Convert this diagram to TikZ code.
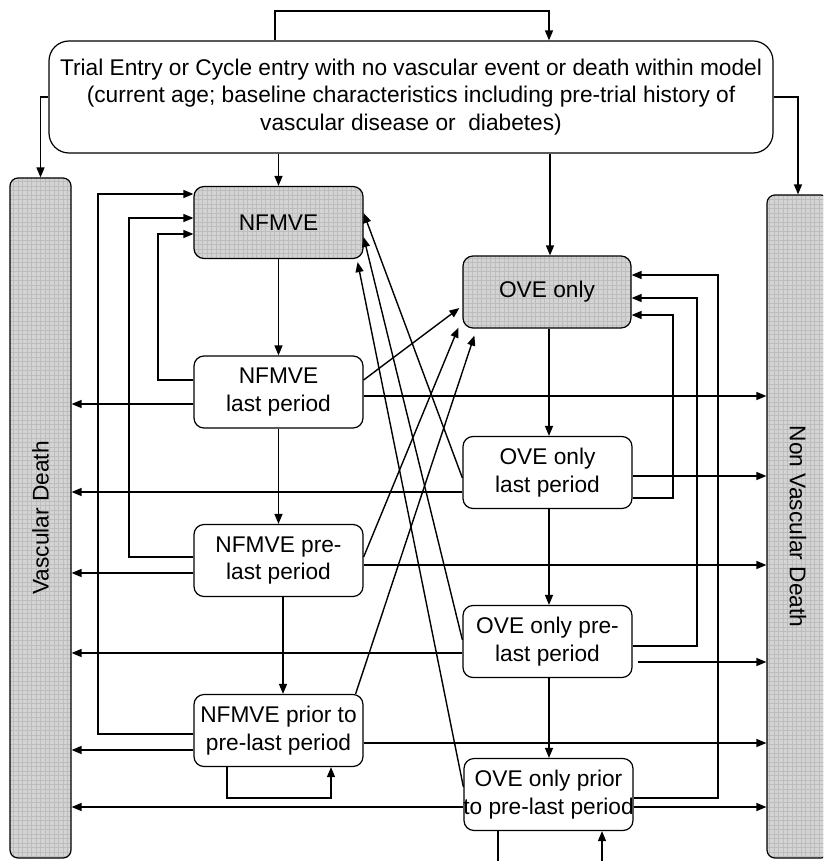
\documentclass[tikz,border=0pt]{standalone}
\usepackage{fontspec}
\setmainfont{Liberation Sans}
\usetikzlibrary{arrows.meta,patterns,calc}
\pgfdeclarepatternformonly{cellgrid}{\pgfqpoint{-1pt}{-1pt}}{\pgfqpoint{5.5pt}{5.5pt}}{\pgfqpoint{4.5pt}{4.5pt}}
{
  \pgfsetlinewidth{0.6pt}
  \pgfpathmoveto{\pgfqpoint{0pt}{0pt}}
  \pgfpathlineto{\pgfqpoint{0pt}{4.6pt}}
  \pgfpathmoveto{\pgfqpoint{0pt}{0pt}}
  \pgfpathlineto{\pgfqpoint{4.6pt}{0pt}}
  \pgfusepath{stroke}
}
\begin{document}
\begin{tikzpicture}[x=1pt,y=-1pt,
  >={Triangle[length=10pt,width=8pt]},
  txt/.style={font=\fontsize{22.7}{27.5}\selectfont},
  box/.style={draw, line width=1.2pt, rounded corners=10pt, minimum width=169pt, minimum height=72pt, inner sep=0pt, align=center, txt, fill=white},
  shaded/.style={preaction={fill=black!17}, pattern=cellgrid, pattern color=black!26},
  col/.style={draw, line width=1.2pt, rounded corners=8pt, inner sep=0pt, shaded},
  conn/.style={draw, line width=1.4pt},
  arr/.style={conn, ->},
]
\useasboundingbox (0,0) rectangle (823,861);
\clip (0,0) rectangle (823,861);

% nodes
\node[box, minimum width=724pt, minimum height=112pt, rounded corners=20pt] (top) at (411,97)
  {Trial Entry or Cycle entry with no vascular event or death within model\\(current age; baseline characteristics including pre-trial history of\\vascular disease or \ diabetes)};

\node[col, minimum width=61pt, minimum height=680pt] (VD) at (40.5,518) {};
\node[txt, rotate=90] (VDt) at (VD) {Vascular Death};
\node[col, minimum width=62pt, minimum height=663pt] (NVD) at (798,526.5) {};
\node[txt, rotate=-90] (NVDt) at (NVD) {Non Vascular Death};

\node[box, shaded] (NF) at (278.5,222.5) {NFMVE};
\node[box] (NFL) at (278.5,392) {NFMVE\\last period};
\node[box] (NFP) at (278.5,560.5) {NFMVE pre-\\last period};
\node[box] (NFQ) at (278.5,730.5) {NFMVE prior to\\pre-last period};

\node[box, shaded, minimum width=168pt] (OV) at (547,292) {OVE only};
\node[box] (OL) at (547.5,472.5) {OVE only\\last period};
\node[box] (OP) at (547.5,641.5) {OVE only pre-\\last period};
\node[box] (OQ) at (548.5,794.5) {OVE only prior\\\makebox[0pt]{to pre-last period}};

\coordinate (b1) at (498,875);
\coordinate (b2) at (602,875);

% top connectors
\draw[arr] (top.north -| 275,0) -- (275,11) -- (549,11) -- (top.north -| 549,0);
\draw[arr] (top.west |- 0,97) -- (VD.north |- 0,97) -- (VD.north);
\draw[arr] (top.east |- 0,97) -- (NVD.north |- 0,97) -- (NVD.north);
\draw[arr] (top.south -| NF.north) -- (NF.north);
\draw[arr] (top.south -| 550,0) -- (OV.north -| 550,0);

% vertical chains
\draw[arr] (NF.south) -- (NFL.north);
\draw[arr] (NFL.south) -- (NFP.north);
\draw[arr] (NFP.south -| 283,0) -- (NFQ.north -| 283,0);
\draw[arr] (OV.south -| 549,0) -- (OL.north -| 549,0);
\draw[arr] (OL.south -| 549,0) -- (OP.north -| 549,0);
\draw[arr] (OP.south -| 549,0) -- (OQ.north -| 549,0);

% to vascular death
\draw[arr] (NFL.west |- 0,404) -- (VD.east |- 0,404);
\draw[arr] (OL.west |- 0,492) -- (VD.east |- 0,492);
\draw[arr] (NFP.west |- 0,573) -- (VD.east |- 0,573);
\draw[arr] (OP.west |- 0,653) -- (VD.east |- 0,653);
\draw[arr] (NFQ.west |- 0,750) -- (VD.east |- 0,750);
\draw[arr] (OQ.west |- 0,807) -- (VD.east |- 0,807);

% to non vascular death
\draw[arr] (NFL.east |- 0,396) -- (NVD.west |- 0,396);
\draw[arr] (OL.east |- 0,476) -- (NVD.west |- 0,476);
\draw[arr] (NFP.east |- 0,565) -- (NVD.west |- 0,565);
\draw[arr] ([xshift=5pt]OP.east |- 0,662) -- (NVD.west |- 0,662);
\draw[arr] (NFQ.east |- 0,743) -- (NVD.west |- 0,743);
\draw[arr] (OQ.east |- 0,807) -- (NVD.west |- 0,807);

% loops back to NFMVE
\draw[arr] (NFL.west |- 0,380) -- (158,380) -- (158,234) -- (NF.west |- 0,234);
\draw[arr] (NFP.west |- 0,557) -- (129,557) -- (129,218) -- (NF.west |- 0,218);
\draw[arr] (NFQ.west |- 0,734) -- (98,734) -- (98,194) -- (NF.west |- 0,194);

% loops back to OVE only
\draw[arr] (OL.east |- 0,498) -- (673,498) -- (673,315) -- (OV.east |- 0,315);
\draw[arr] (OP.east |- 0,646) -- (697,646) -- (697,298) -- (OV.east |- 0,298);
\draw[arr] (OQ.east |- 0,798) -- (718,798) -- (718,275) -- (OV.east |- 0,275);

% self loops
\draw[arr] (NFQ.south -| 227,0) -- (227,798) -- (331,798) -- (NFQ.south -| 331,0);
\draw[conn] (OQ.south -| b1) -- (b1);
\draw[arr] (b2) -- (OQ.south -| b2);

% diagonals to OVE only
\draw[arr] (NFL.east |- 0,380) -- ([xshift=-3pt]OV.west |- 0,308);
\draw[arr] (NFP.east |- 0,557) -- ($(OV.south west)+(-4,-1)$);
\draw[arr] ($(NFQ.north east)+(-8,0)$) -- ($(OV.south west)+(12,7)$);

% diagonals to NFMVE
\draw[arr] (OL.west |- 0,478) -- (NF.east |- 0,213);
\draw[arr] (OP.west |- 0,640) -- (NF.east |- 0,237);
\draw[arr] (OQ.west |- 0,787) -- ($(NF.south east)+(-6,3)$);
\end{tikzpicture}
\end{document}
